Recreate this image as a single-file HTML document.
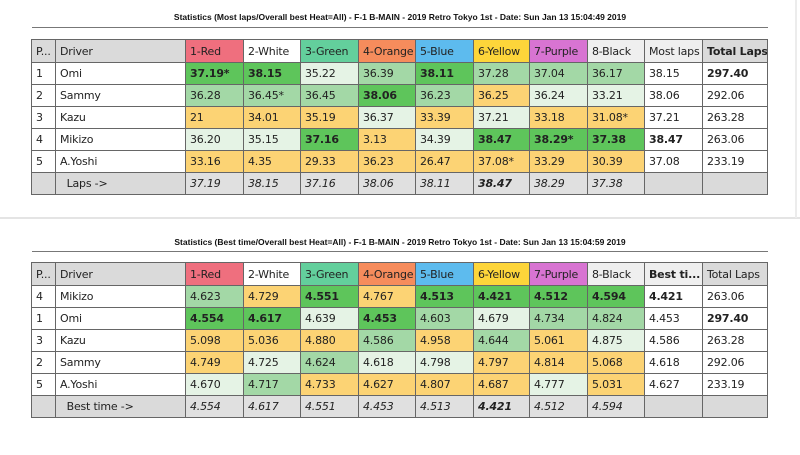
<!DOCTYPE html>
<html><head><meta charset="utf-8"><style>
html,body{margin:0;padding:0;background:#fff;width:800px;height:455px;overflow:hidden;position:relative;font-family:"DejaVu Sans","Liberation Sans",sans-serif;}
.title{position:absolute;left:0;width:800px;text-align:center;font:bold 8.5px "Liberation Sans",sans-serif;color:#111;}
.rule{position:absolute;left:32px;width:736px;height:1px;background:#777;}
table{position:absolute;left:31px;border-collapse:collapse;table-layout:fixed;width:736px;font-size:11px;letter-spacing:-0.2px;color:#222;}
td{border:1px solid #666;height:21px;padding:0 0 0 4px;white-space:nowrap;overflow:hidden;}
tr.h td{height:22px;}
.gh{background:#dadada}.W{background:#fff}
.G{background:#5ec55b;font-weight:bold}.M{background:#a3d8a6}.L{background:#e5f3e5}.Y{background:#fcd374}
.gr{background:#e0e0e0;font-style:italic}
.b{font-weight:bold}
.c1{background:#ef6f7e}.c3{background:#63cf9c}.c4{background:#f68c5c}.c5{background:#5dbbee}.c6{background:#fdd53a}.c7{background:#d874d2}.c8{background:#efefef}
</style></head><body>
<div style="position:absolute;left:0;top:217px;width:800px;height:2px;background:#e4e4e4"></div>
<div style="position:absolute;left:795px;top:0;width:2px;height:218px;background:#ececec"></div>
<div class="title" style="top:12px">Statistics (Most laps/Overall best Heat=All) - F-1 B-MAIN - 2019 Retro Tokyo 1st - Date: Sun Jan 13 15:04:49 2019</div>
<div class="rule" style="top:27px"></div>
<table style="top:39px">
<colgroup><col style="width:24px"><col style="width:130px"><col style="width:58px"><col style="width:57px"><col style="width:58px"><col style="width:57px"><col style="width:58px"><col style="width:56px"><col style="width:58px"><col style="width:57px"><col style="width:58px"><col style="width:65px"></colgroup>
<tr class="h"><td class="gh">P...</td><td class="gh">Driver</td><td class="c1">1-Red</td><td class="W">2-White</td><td class="c3">3-Green</td><td class="c4">4-Orange</td><td class="c5">5-Blue</td><td class="c6">6-Yellow</td><td class="c7">7-Purple</td><td class="c8">8-Black</td><td class="c8">Most laps</td><td class="gh b">Total Laps</td></tr>
<tr><td>1</td><td>Omi</td><td class="G">37.19*</td><td class="G">38.15</td><td class="L">35.22</td><td class="M">36.39</td><td class="G">38.11</td><td class="M">37.28</td><td class="M">37.04</td><td class="M">36.17</td><td>38.15</td><td class="b">297.40</td></tr>
<tr><td>2</td><td>Sammy</td><td class="M">36.28</td><td class="M">36.45*</td><td class="M">36.45</td><td class="G">38.06</td><td class="M">36.23</td><td class="Y">36.25</td><td class="L">36.24</td><td class="L">33.21</td><td>38.06</td><td>292.06</td></tr>
<tr><td>3</td><td>Kazu</td><td class="Y">21</td><td class="Y">34.01</td><td class="Y">35.19</td><td class="L">36.37</td><td class="Y">33.39</td><td class="L">37.21</td><td class="Y">33.18</td><td class="Y">31.08*</td><td>37.21</td><td>263.28</td></tr>
<tr><td>4</td><td>Mikizo</td><td class="L">36.20</td><td class="L">35.15</td><td class="G">37.16</td><td class="Y">3.13</td><td class="L">34.39</td><td class="G">38.47</td><td class="G">38.29*</td><td class="G">37.38</td><td class="b">38.47</td><td>263.06</td></tr>
<tr><td>5</td><td>A.Yoshi</td><td class="Y">33.16</td><td class="Y">4.35</td><td class="Y">29.33</td><td class="Y">36.23</td><td class="Y">26.47</td><td class="Y">37.08*</td><td class="Y">33.29</td><td class="Y">30.39</td><td>37.08</td><td>233.19</td></tr>
<tr><td class="gh"></td><td class="gh">&nbsp;&nbsp;Laps -&gt;</td><td class="gr">37.19</td><td class="gr">38.15</td><td class="gr">37.16</td><td class="gr">38.06</td><td class="gr">38.11</td><td class="gr b">38.47</td><td class="gr">38.29</td><td class="gr">37.38</td><td class="gh"></td><td class="gh"></td></tr>
</table>
<div class="title" style="top:237px">Statistics (Best time/Overall best Heat=All) - F-1 B-MAIN - 2019 Retro Tokyo 1st - Date: Sun Jan 13 15:04:59 2019</div>
<div class="rule" style="top:251px"></div>
<table style="top:262px">
<colgroup><col style="width:24px"><col style="width:130px"><col style="width:58px"><col style="width:57px"><col style="width:58px"><col style="width:57px"><col style="width:58px"><col style="width:56px"><col style="width:58px"><col style="width:57px"><col style="width:58px"><col style="width:65px"></colgroup>
<tr class="h"><td class="gh">P...</td><td class="gh">Driver</td><td class="c1">1-Red</td><td class="W">2-White</td><td class="c3">3-Green</td><td class="c4">4-Orange</td><td class="c5">5-Blue</td><td class="c6">6-Yellow</td><td class="c7">7-Purple</td><td class="c8">8-Black</td><td class="c8 b">Best ti...</td><td class="gh">Total Laps</td></tr>
<tr><td>4</td><td>Mikizo</td><td class="M">4.623</td><td class="Y">4.729</td><td class="G">4.551</td><td class="Y">4.767</td><td class="G">4.513</td><td class="G">4.421</td><td class="G">4.512</td><td class="G">4.594</td><td class="b">4.421</td><td>263.06</td></tr>
<tr><td>1</td><td>Omi</td><td class="G">4.554</td><td class="G">4.617</td><td class="L">4.639</td><td class="G">4.453</td><td class="M">4.603</td><td class="L">4.679</td><td class="M">4.734</td><td class="M">4.824</td><td>4.453</td><td class="b">297.40</td></tr>
<tr><td>3</td><td>Kazu</td><td class="Y">5.098</td><td class="Y">5.036</td><td class="Y">4.880</td><td class="M">4.586</td><td class="Y">4.958</td><td class="M">4.644</td><td class="Y">5.061</td><td class="L">4.875</td><td>4.586</td><td>263.28</td></tr>
<tr><td>2</td><td>Sammy</td><td class="Y">4.749</td><td class="L">4.725</td><td class="M">4.624</td><td class="L">4.618</td><td class="L">4.798</td><td class="Y">4.797</td><td class="Y">4.814</td><td class="Y">5.068</td><td>4.618</td><td>292.06</td></tr>
<tr><td>5</td><td>A.Yoshi</td><td class="L">4.670</td><td class="M">4.717</td><td class="Y">4.733</td><td class="Y">4.627</td><td class="Y">4.807</td><td class="Y">4.687</td><td class="L">4.777</td><td class="Y">5.031</td><td>4.627</td><td>233.19</td></tr>
<tr><td class="gh"></td><td class="gh">&nbsp;&nbsp;Best time -&gt;</td><td class="gr">4.554</td><td class="gr">4.617</td><td class="gr">4.551</td><td class="gr">4.453</td><td class="gr">4.513</td><td class="gr b">4.421</td><td class="gr">4.512</td><td class="gr">4.594</td><td class="gh"></td><td class="gh"></td></tr>
</table>
</body></html>
